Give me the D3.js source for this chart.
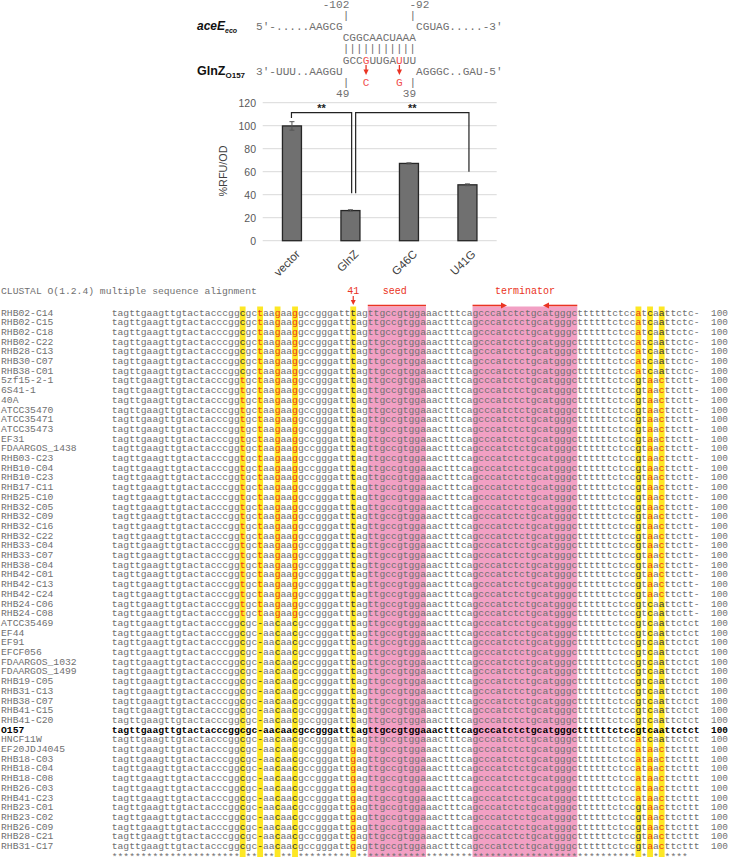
<!DOCTYPE html>
<html><head><meta charset="utf-8">
<script src="https://cdn.jsdelivr.net/npm/d3@7"></script>
<style>body{margin:0;background:#fff}</style>
</head><body><svg id="c" width="729" height="857" xmlns="http://www.w3.org/2000/svg"></svg>
<script>
// ---------------- DATA ----------------
// top duplex diagram
const aceELeft = "5'-.....AAGCG";
const aceERight = "CGUAG.....-3'";
const aceEPair = "CGGCAACUAAA";
const glnZPair = "GCCGUUGAUUU";
const glnZLeft = "3'-UUU..AAGGU";
const glnZRight = "AGGGC..GAU-5'";
const mutIndex = [3, 8];          // positions inside glnZPair
const mutBases = ["C", "G"];
const aceECoords = ["-102", "-92"];
const glnZCoords = ["49", "39"];

// bar chart
const barCategories = ["vector", "GlnZ", "G46C", "U41G"];
const barValues = [99.8, 26.2, 67.2, 48.6];
const barErrors = [3.7, 0.7, 0.5, 0.8];
const yTicks = [0, 20, 40, 60, 80, 100, 120];
const sigFrom = ["vector", "GlnZ"];
const sigTo = ["GlnZ", "U41G"];
const sigLegFrom = [106.7, 41.2];
const sigLegTo = [41.2, 60];
const sigTop = [111.3, 111.3];
const sigLabels = ["**", "**"];

// alignment
const P = "tagttgaagttgtactacccgg";
const M = "ttgccgtggaaactttcagcccatctctgcatgggcttttttctcc";
const haplotypes = [
  P + "cgctaagaag" + "gccgggatt" + "tag" + M + "atcaa" + "ttctc-",
  P + "tgctaagaag" + "gccgggatt" + "tag" + M + "gtaac" + "ttctt-",
  P + "tgctaagaag" + "gccgggatt" + "tag" + M + "gtcaa" + "ttctt-",
  P + "cgc-aacaac" + "gccgggatt" + "tag" + M + "gtcaa" + "ttctct",
  P + "cgc-aacaac" + "gccgggatt" + "tag" + M + "atcaa" + "ttctct",
  P + "cgc-aacaac" + "gccgggatt" + "gag" + M + "ataac" + "ttcttt",
  P + "cgc-aacaac" + "gccgggatt" + "gag" + M + "gtaac" + "ttcttt"
];
const strainNames = ["RHB02-C14","RHB02-C15","RHB02-C18","RHB02-C22","RHB28-C13","RHB30-C07","RHB38-C01",
  "5zf15-2-1","6S41-1","40A","ATCC35470","ATCC35471","ATCC35473","EF31","FDAARGOS_1438","RHB03-C23",
  "RHB10-C04","RHB10-C23","RHB17-C11","RHB25-C10","RHB32-C05","RHB32-C09","RHB32-C16","RHB32-C22",
  "RHB33-C04","RHB33-C07","RHB38-C04","RHB42-C01","RHB42-C13","RHB42-C24","RHB24-C06","RHB24-C08",
  "ATCC35469","EF44","EF91","EFCF056","FDAARGOS_1032","FDAARGOS_1499","RHB19-C05","RHB31-C13",
  "RHB38-C07","RHB41-C15","RHB41-C20","O157","HNCF11W","EF20JDJ4045","RHB18-C03","RHB18-C04",
  "RHB18-C08","RHB26-C03","RHB41-C23","RHB23-C01","RHB23-C02","RHB26-C09","RHB28-C21","RHB31-C17"];
const strainHaplotype = [0,0,0,0,0,0,0,
  1,1,1,1,1,1,1,1,1,1,1,1,1,1,1,1,1,1,1,1,1,1,1,
  2,2,
  3,3,3,3,3,3,3,3,3,3,3,3,
  4,
  5,5,5,5,5,5,
  6,6,6,6,6];
const referenceStrain = "O157";
const highlightCols = [23, 26, 29, 32, 42, 91, 93, 95];
const pinkRegions = [[45, 54], [63, 80]];
const headerTitle = "CLUSTAL O(1.2.4) multiple sequence alignment";
const markLabels = ["41", "seed", "terminator"];

// ---------------- DRAW ----------------
const svg = d3.select("#c");
const MONO = "'Liberation Mono', 'DejaVu Sans Mono', monospace";
const SANS = "'Liberation Sans', Arial, sans-serif";
const RED = "#ea3323";

// ---- top diagram ----
const topG = svg.append("g");
const cw = 6.67, tx0 = 256;
const tcol = c => tx0 + c * cw;
const tLine = d3.scaleLinear().domain([0, 1]).range([8, 19.1]);
const gray = "#707070";
function tText(str, col, line, fill) {
  return topG.append("text").attr("x", tcol(col)).attr("y", tLine(line))
    .attr("font-family", MONO).attr("font-size", 11.1).attr("fill", fill || gray)
    .attr("xml:space", "preserve").style("white-space", "pre").text(str);
}
tText(aceECoords[0], 10, 0);
tText(aceECoords[1], 23, 0);
tText("|", 13, 1);
tText("|", 23, 1);
tText(aceELeft, 0, 2);
tText(aceERight, 24, 2);
tText(aceEPair, 13, 3);
tText("|".repeat(aceEPair.length), 13, 4);
glnZPair.split("").forEach((ch, i) => {
  tText(ch, 13 + i, 5, mutIndex.includes(i) ? "#f05050" : gray);
});
tText(glnZLeft, 0, 6);
tText(glnZRight, 24, 6);
tText("|", 13, 7);
tText("|", 23, 7);
mutIndex.forEach((m, k) => {
  tText(mutBases[k], 13 + m, 7, "#f05050");
  const x = tcol(13 + m) + cw / 2;
  topG.append("line").attr("x1", x).attr("x2", x).attr("y1", 65).attr("y2", 71)
    .attr("stroke", RED).attr("stroke-width", 1.3);
  topG.append("path").attr("d", `M${x - 2.6},${69.5} L${x + 2.6},${69.5} L${x},${75} Z`).attr("fill", RED);
});
tText(glnZCoords[0], 12, 8);
tText(glnZCoords[1], 22, 8);
// labels
const lab1 = topG.append("text").attr("x", 197).attr("y", 29.5).attr("font-family", SANS)
  .attr("font-weight", "bold").attr("fill", "#111");
lab1.append("tspan").attr("font-size", 12).attr("font-style", "italic").text("aceE");
lab1.append("tspan").attr("font-size", 7).attr("dy", 3).attr("font-style", "italic").text("eco");
const lab2 = topG.append("text").attr("x", 197).attr("y", 74.5).attr("font-family", SANS)
  .attr("font-weight", "bold").attr("fill", "#111");
lab2.append("tspan").attr("font-size", 12.5).text("GlnZ");
lab2.append("tspan").attr("font-size", 8).attr("dy", 3).text("O157");

// ---- bar chart ----
const bc = svg.append("g");
const x = d3.scaleBand().domain(barCategories).range([262.7, 496.7]).padding(0);
const y = d3.scaleLinear().domain([0, 120]).range([240.7, 102.7]);
const barW = x.bandwidth() * 0.325;
const cx = c => x(c) + x.bandwidth() / 2;
bc.selectAll("line.grid").data(yTicks).join("line")
  .attr("x1", 262.7).attr("x2", 496.7).attr("y1", d => y(d)).attr("y2", d => y(d))
  .attr("stroke", "#d9d9d9").attr("stroke-width", 1);
const yAxis = d3.axisLeft(y).tickValues(yTicks).tickSize(0).tickPadding(0);
const ya = bc.append("g").attr("transform", "translate(256,0)").call(yAxis);
ya.select(".domain").remove();
ya.selectAll("text").attr("font-family", SANS).attr("font-size", 10.5).attr("fill", "#595959").attr("dy", "0.36em");
bc.append("text").attr("transform", "translate(227,171) rotate(-90)").attr("text-anchor", "middle")
  .attr("font-family", SANS).attr("font-size", 10.8).attr("fill", "#404040").text("%RFU/OD");
bc.selectAll("rect.bar").data(barCategories).join("rect")
  .attr("x", d => cx(d) - barW / 2).attr("width", barW)
  .attr("y", (d, i) => y(barValues[i])).attr("height", (d, i) => y(0) - y(barValues[i]))
  .attr("fill", "#707070").attr("stroke", "#262626").attr("stroke-width", 1.3);
barCategories.forEach((c, i) => {
  const xx = cx(c), hi = y(barValues[i] + barErrors[i]), lo = y(barValues[i] - barErrors[i]);
  bc.append("line").attr("x1", xx).attr("x2", xx).attr("y1", hi).attr("y2", lo).attr("stroke", "#555");
  bc.append("line").attr("x1", xx - 2.5).attr("x2", xx + 2.5).attr("y1", hi).attr("y2", hi).attr("stroke", "#555");
  bc.append("line").attr("x1", xx - 2.5).attr("x2", xx + 2.5).attr("y1", lo).attr("y2", lo).attr("stroke", "#555");
});
bc.selectAll("text.xl").data(barCategories).join("text")
  .attr("transform", d => `translate(${cx(d) + 6},${252}) rotate(-45)`)
  .attr("text-anchor", "end").attr("dy", "0.35em")
  .attr("font-family", SANS).attr("font-size", 11.5).attr("fill", "#404040").text(d => d);
const legOff = {vector: -0.5, GlnZ: 1.2, U41G: 1.5};
sigFrom.forEach((f, k) => {
  const t = sigTo[k];
  const x1 = cx(f) + (k === 1 ? 5.2 : legOff[f]);
  const x2 = cx(t) + legOff[t];
  bc.append("path").attr("d", `M${x1},${y(sigLegFrom[k])} V${y(sigTop[k])} H${x2} V${y(sigLegTo[k])}`)
    .attr("fill", "none").attr("stroke", "#222").attr("stroke-width", 1.2);
  bc.append("text").attr("x", (x1 + x2) / 2).attr("y", y(sigTop[k]) - 0.5).attr("text-anchor", "middle")
    .attr("font-family", SANS).attr("font-size", 11).attr("font-weight", "bold").attr("fill", "#222").text(sigLabels[k]);
});

// ---- alignment ----
const al = svg.append("g");
const nCols = haplotypes[0].length;
const charW = 5.82;
const xc = d3.scaleLinear().domain([0, nCols]).range([111.7, 111.7 + nCols * charW]);
const rowY = d3.scaleLinear().domain([0, 1]).range([315.5, 325.2]);
const rows = strainNames.map((n, i) => ({name: n, seq: haplotypes[strainHaplotype[i]]}));
const ref = rows.find(r => r.name === referenceStrain).seq;
const topY = 306.5, botY = 857;
pinkRegions.forEach(([s, e]) => {
  al.append("rect").attr("x", xc(s - 1)).attr("width", xc(e) - xc(s - 1))
    .attr("y", topY).attr("height", botY - topY).attr("fill", "#f2a0c4");
});
highlightCols.forEach(c => {
  al.append("rect").attr("x", xc(c - 1)).attr("width", charW)
    .attr("y", topY).attr("height", botY - topY).attr("fill", "#fde725");
});
// header
al.append("text").attr("x", 1).attr("y", 294).attr("font-family", MONO).attr("font-size", 9.7)
  .attr("fill", "#707070").attr("xml:space", "preserve").text(headerTitle);
const c41 = xc(41) + charW / 2;
al.append("text").attr("x", c41).attr("y", 294).attr("text-anchor", "middle").attr("font-family", MONO)
  .attr("font-size", 10).attr("fill", RED).text(markLabels[0]);
al.append("line").attr("x1", c41).attr("x2", c41).attr("y1", 296).attr("y2", 301).attr("stroke", RED).attr("stroke-width", 1.2);
al.append("path").attr("d", `M${c41 - 2.5},300 L${c41 + 2.5},300 L${c41},305 Z`).attr("fill", RED);
const seedC = (xc(44) + xc(54)) / 2 - 2;
al.append("text").attr("x", seedC).attr("y", 294).attr("text-anchor", "middle").attr("font-family", MONO)
  .attr("font-size", 10).attr("fill", RED).text(markLabels[1]);
al.append("line").attr("x1", xc(44)).attr("x2", xc(54)).attr("y1", 305.5).attr("y2", 305.5).attr("stroke", RED).attr("stroke-width", 1.6);
const termC = (xc(62) + xc(80)) / 2;
al.append("text").attr("x", termC).attr("y", 294).attr("text-anchor", "middle").attr("font-family", MONO)
  .attr("font-size", 10).attr("fill", RED).text(markLabels[2]);
const aL = xc(62), aR = xc(80), a1 = 507, a2 = 543;
al.append("line").attr("x1", aL).attr("x2", a1 - 3).attr("y1", 305.5).attr("y2", 305.5).attr("stroke", RED).attr("stroke-width", 1.6);
al.append("path").attr("d", `M${a1},305.5 L${a1 - 6},302.5 L${a1 - 6},308.5 Z`).attr("fill", RED);
al.append("line").attr("x1", a2 + 3).attr("x2", aR).attr("y1", 305.5).attr("y2", 305.5).attr("stroke", RED).attr("stroke-width", 1.6);
al.append("path").attr("d", `M${a2},305.5 L${a2 + 6},302.5 L${a2 + 6},308.5 Z`).attr("fill", RED);

rows.forEach((r, i) => {
  const isRef = r.name === referenceStrain;
  const yy = rowY(i);
  al.append("text").attr("x", 1).attr("y", yy).attr("font-family", MONO).attr("font-size", 9.7)
    .attr("font-weight", isRef ? "bold" : "normal").attr("fill", isRef ? "#000" : "#707070").text(r.name);
  const t = al.append("text").attr("y", yy).attr("font-family", MONO).attr("font-size", 9.7)
    .attr("font-weight", isRef ? "bold" : "normal");
  r.seq.split("").forEach((ch, j) => {
    let fill = isRef ? "#000" : "#707070";
    if (!isRef && highlightCols.includes(j + 1)) fill = ch !== ref[j] ? "#ec3a17" : "#333";
    t.append("tspan").attr("x", xc(j)).attr("fill", fill).text(ch);
  });
  const count = r.seq.replace(/-/g, "").length;
  al.append("text").attr("x", 711).attr("y", yy).attr("font-family", MONO).attr("font-size", 9.4)
    .attr("font-weight", isRef ? "bold" : "normal").attr("fill", isRef ? "#000" : "#707070").text(count);
});
// consensus
const cons = d3.range(nCols).map(j => rows.every(r => r.seq[j] === rows[0].seq[j]) ? "*" : " ");
const ct = al.append("text").attr("y", rowY(rows.length) + 1).attr("font-family", MONO).attr("font-size", 9.7).attr("fill", "#707070");
cons.forEach((ch, j) => { if (ch === "*") ct.append("tspan").attr("x", xc(j)).text(ch); });
</script></body></html>
